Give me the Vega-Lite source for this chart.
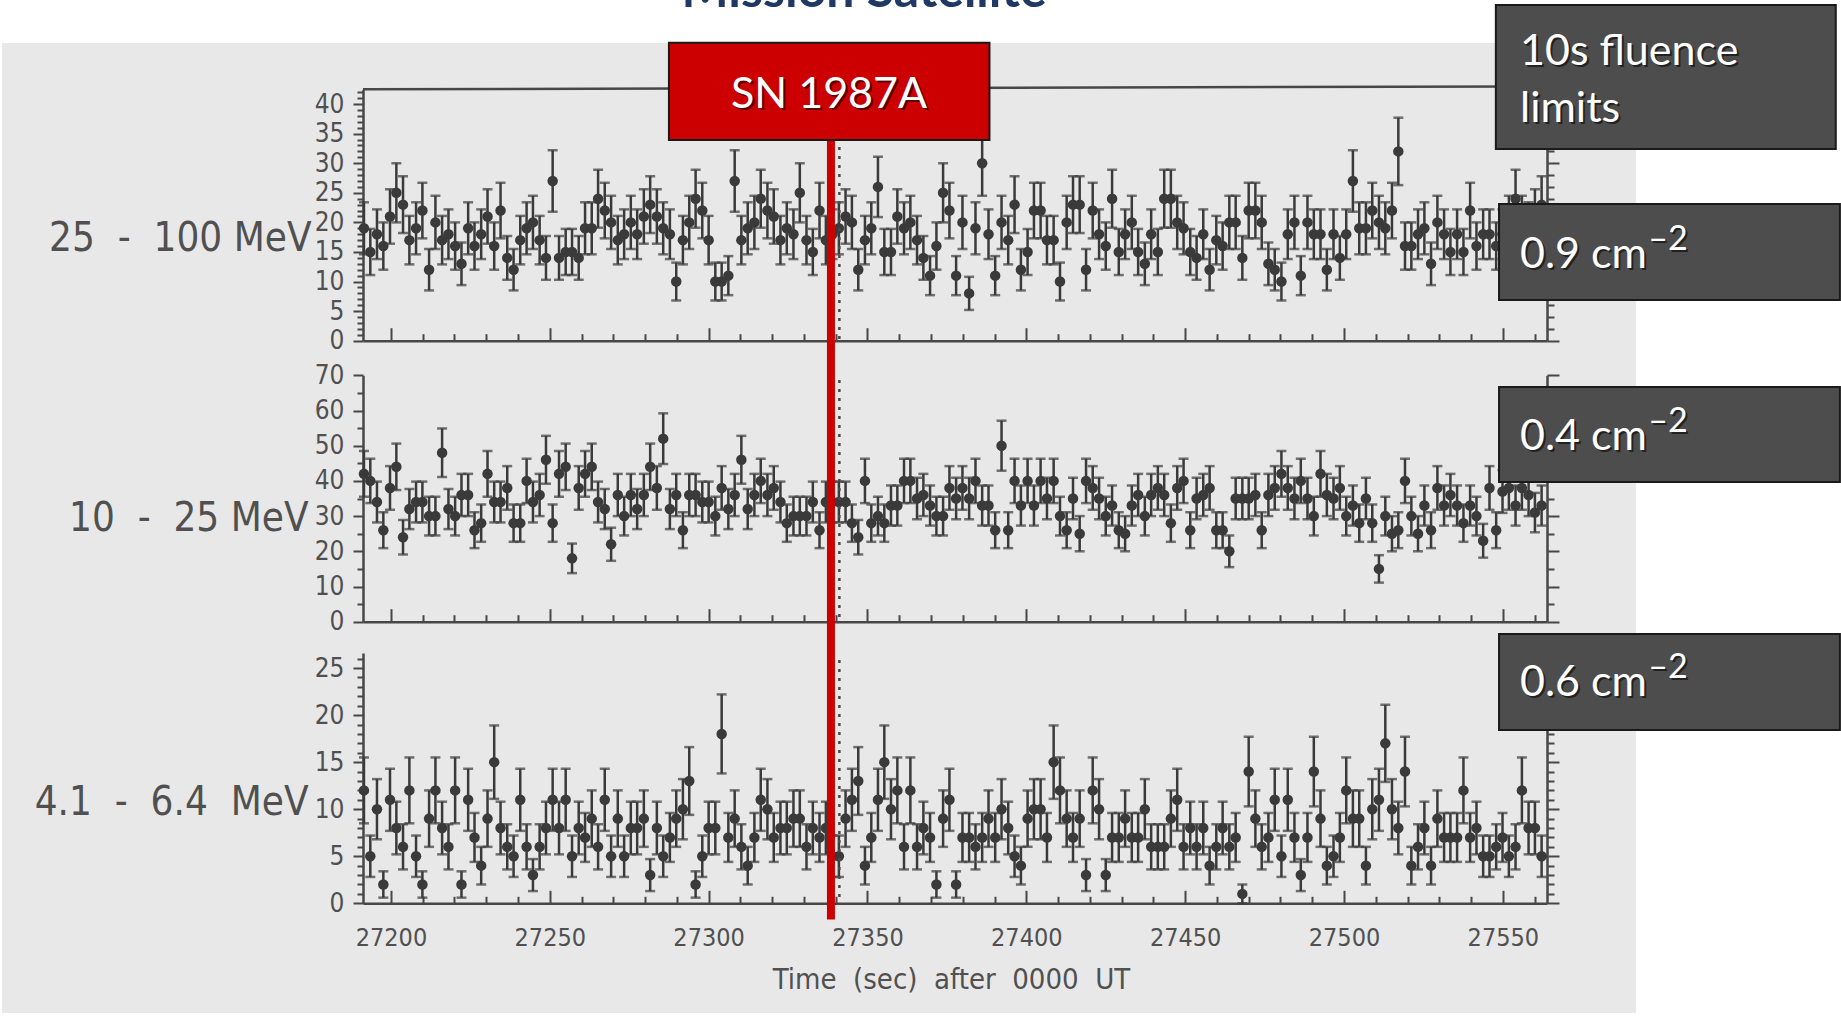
{
"$schema": "https://vega.github.io/schema/vega-lite/v6.json",
"width": 1841, "height": 1016,
"autosize": {"type": "none"},
"padding": 0,
"background": "#e8e8e8",
"config": {
  "view": {"stroke": null},
  "axis": {"domainColor": "#474747", "domainWidth": 2.5, "tickColor": "#474747", "tickWidth": 2, "grid": false,
    "labelFont": "DejaVu Sans Condensed, DejaVu Sans, sans-serif", "labelFontSize": 26, "labelColor": "#505050",
    "titleFont": "DejaVu Sans Condensed, DejaVu Sans, sans-serif", "titleColor": "#505050", "titleFontWeight": "normal",
    "labelFlush": false, "labelBound": false, "labelAngle": 0, "format": "d"}
},
"datasets": {
"d": [
{"t":27191.5,"a":19,"ea":4.4,"b":42,"eb":6.5,"c":12,"ec":3.5},
{"t":27193.5,"a":15,"ea":3.9,"b":40,"eb":6.3,"c":5,"ec":2.2},
{"t":27195.6,"a":18,"ea":4.2,"b":34,"eb":5.8,"c":10,"ec":3.2},
{"t":27197.6,"a":16,"ea":4.0,"b":26,"eb":5.1,"c":2,"ec":1.4},
{"t":27199.7,"a":21,"ea":4.6,"b":38,"eb":6.2,"c":11,"ec":3.3},
{"t":27201.7,"a":25,"ea":5.0,"b":44,"eb":6.6,"c":8,"ec":2.8},
{"t":27203.8,"a":23,"ea":4.8,"b":24,"eb":4.9,"c":6,"ec":2.4},
{"t":27205.8,"a":17,"ea":4.1,"b":32,"eb":5.7,"c":12,"ec":3.5},
{"t":27207.9,"a":19,"ea":4.4,"b":34,"eb":5.8,"c":5,"ec":2.2},
{"t":27209.9,"a":22,"ea":4.7,"b":34,"eb":5.8,"c":2,"ec":1.4},
{"t":27212.0,"a":12,"ea":3.5,"b":30,"eb":5.5,"c":9,"ec":3.0},
{"t":27214.0,"a":20,"ea":4.5,"b":30,"eb":5.5,"c":12,"ec":3.5},
{"t":27216.1,"a":17,"ea":4.1,"b":48,"eb":6.9,"c":8,"ec":2.8},
{"t":27218.1,"a":18,"ea":4.2,"b":32,"eb":5.7,"c":6,"ec":2.4},
{"t":27220.2,"a":16,"ea":4.0,"b":30,"eb":5.5,"c":12,"ec":3.5},
{"t":27222.2,"a":13,"ea":3.6,"b":36,"eb":6.0,"c":2,"ec":1.4},
{"t":27224.3,"a":19,"ea":4.4,"b":36,"eb":6.0,"c":11,"ec":3.3},
{"t":27226.3,"a":16,"ea":4.0,"b":26,"eb":5.1,"c":7,"ec":2.6},
{"t":27228.4,"a":18,"ea":4.2,"b":28,"eb":5.3,"c":4,"ec":2.0},
{"t":27230.4,"a":21,"ea":4.6,"b":42,"eb":6.5,"c":9,"ec":3.0},
{"t":27232.5,"a":16,"ea":4.0,"b":34,"eb":5.8,"c":15,"ec":3.9},
{"t":27234.5,"a":22,"ea":4.7,"b":34,"eb":5.8,"c":8,"ec":2.8},
{"t":27236.6,"a":14,"ea":3.7,"b":38,"eb":6.2,"c":6,"ec":2.4},
{"t":27238.6,"a":12,"ea":3.5,"b":28,"eb":5.3,"c":5,"ec":2.2},
{"t":27240.7,"a":17,"ea":4.1,"b":28,"eb":5.3,"c":11,"ec":3.3},
{"t":27242.7,"a":19,"ea":4.4,"b":40,"eb":6.3,"c":6,"ec":2.4},
{"t":27244.7,"a":20,"ea":4.5,"b":34,"eb":5.8,"c":3,"ec":1.7},
{"t":27246.8,"a":17,"ea":4.1,"b":36,"eb":6.0,"c":6,"ec":2.4},
{"t":27248.8,"a":14,"ea":3.7,"b":46,"eb":6.8,"c":8,"ec":2.8},
{"t":27250.9,"a":27,"ea":5.2,"b":28,"eb":5.3,"c":11,"ec":3.3},
{"t":27252.9,"a":14,"ea":3.7,"b":42,"eb":6.5,"c":8,"ec":2.8},
{"t":27255.0,"a":15,"ea":3.9,"b":44,"eb":6.6,"c":11,"ec":3.3},
{"t":27257.0,"a":15,"ea":3.9,"b":18,"eb":4.2,"c":5,"ec":2.2},
{"t":27259.1,"a":14,"ea":3.7,"b":38,"eb":6.2,"c":8,"ec":2.8},
{"t":27261.1,"a":19,"ea":4.4,"b":42,"eb":6.5,"c":7,"ec":2.6},
{"t":27263.2,"a":19,"ea":4.4,"b":44,"eb":6.6,"c":9,"ec":3.0},
{"t":27265.2,"a":24,"ea":4.9,"b":34,"eb":5.8,"c":6,"ec":2.4},
{"t":27267.3,"a":22,"ea":4.7,"b":32,"eb":5.7,"c":11,"ec":3.3},
{"t":27269.3,"a":20,"ea":4.5,"b":22,"eb":4.7,"c":5,"ec":2.2},
{"t":27271.4,"a":17,"ea":4.1,"b":36,"eb":6.0,"c":9,"ec":3.0},
{"t":27273.4,"a":18,"ea":4.2,"b":30,"eb":5.5,"c":5,"ec":2.2},
{"t":27275.5,"a":20,"ea":4.5,"b":36,"eb":6.0,"c":8,"ec":2.8},
{"t":27277.5,"a":18,"ea":4.2,"b":32,"eb":5.7,"c":8,"ec":2.8},
{"t":27279.6,"a":21,"ea":4.6,"b":36,"eb":6.0,"c":9,"ec":3.0},
{"t":27281.6,"a":23,"ea":4.8,"b":44,"eb":6.6,"c":3,"ec":1.7},
{"t":27283.7,"a":21,"ea":4.6,"b":38,"eb":6.2,"c":8,"ec":2.8},
{"t":27285.7,"a":19,"ea":4.4,"b":52,"eb":7.2,"c":5,"ec":2.2},
{"t":27287.8,"a":18,"ea":4.2,"b":32,"eb":5.7,"c":7,"ec":2.6},
{"t":27289.8,"a":10,"ea":3.2,"b":36,"eb":6.0,"c":9,"ec":3.0},
{"t":27291.9,"a":17,"ea":4.1,"b":26,"eb":5.1,"c":10,"ec":3.2},
{"t":27293.9,"a":20,"ea":4.5,"b":36,"eb":6.0,"c":13,"ec":3.6},
{"t":27295.9,"a":24,"ea":4.9,"b":36,"eb":6.0,"c":2,"ec":1.4},
{"t":27298.0,"a":22,"ea":4.7,"b":34,"eb":5.8,"c":5,"ec":2.2},
{"t":27300.0,"a":17,"ea":4.1,"b":34,"eb":5.8,"c":8,"ec":2.8},
{"t":27302.1,"a":10,"ea":3.2,"b":30,"eb":5.5,"c":8,"ec":2.8},
{"t":27304.1,"a":10,"ea":3.2,"b":38,"eb":6.2,"c":18,"ec":4.2},
{"t":27306.2,"a":11,"ea":3.3,"b":32,"eb":5.7,"c":7,"ec":2.6},
{"t":27308.2,"a":27,"ea":5.2,"b":36,"eb":6.0,"c":9,"ec":3.0},
{"t":27310.3,"a":17,"ea":4.1,"b":46,"eb":6.8,"c":6,"ec":2.4},
{"t":27312.3,"a":19,"ea":4.4,"b":32,"eb":5.7,"c":4,"ec":2.0},
{"t":27314.4,"a":20,"ea":4.5,"b":36,"eb":6.0,"c":7,"ec":2.6},
{"t":27316.4,"a":24,"ea":4.9,"b":40,"eb":6.3,"c":11,"ec":3.3},
{"t":27318.5,"a":22,"ea":4.7,"b":36,"eb":6.0,"c":10,"ec":3.2},
{"t":27320.5,"a":21,"ea":4.6,"b":38,"eb":6.2,"c":7,"ec":2.6},
{"t":27322.6,"a":17,"ea":4.1,"b":34,"eb":5.8,"c":8,"ec":2.8},
{"t":27324.6,"a":19,"ea":4.4,"b":28,"eb":5.3,"c":8,"ec":2.8},
{"t":27326.7,"a":18,"ea":4.2,"b":30,"eb":5.5,"c":9,"ec":3.0},
{"t":27328.7,"a":25,"ea":5.0,"b":30,"eb":5.5,"c":9,"ec":3.0},
{"t":27330.8,"a":17,"ea":4.1,"b":30,"eb":5.5,"c":6,"ec":2.4},
{"t":27332.8,"a":15,"ea":3.9,"b":34,"eb":5.8,"c":8,"ec":2.8},
{"t":27334.9,"a":22,"ea":4.7,"b":26,"eb":5.1,"c":7,"ec":2.6},
{"t":27336.9,"a":17,"ea":4.1,"b":34,"eb":5.8,"c":8,"ec":2.8},
{"t":27339.0,"a":18,"ea":4.2,"b":34,"eb":5.8,"c":5,"ec":2.2},
{"t":27341.0,"a":19,"ea":4.4,"b":34,"eb":5.8,"c":5,"ec":2.2},
{"t":27343.1,"a":21,"ea":4.6,"b":34,"eb":5.8,"c":9,"ec":3.0},
{"t":27345.1,"a":20,"ea":4.5,"b":28,"eb":5.3,"c":11,"ec":3.3},
{"t":27347.1,"a":12,"ea":3.5,"b":24,"eb":4.9,"c":13,"ec":3.6},
{"t":27349.2,"a":17,"ea":4.1,"b":40,"eb":6.3,"c":4,"ec":2.0},
{"t":27351.2,"a":19,"ea":4.4,"b":28,"eb":5.3,"c":7,"ec":2.6},
{"t":27353.3,"a":26,"ea":5.1,"b":30,"eb":5.5,"c":11,"ec":3.3},
{"t":27355.3,"a":15,"ea":3.9,"b":28,"eb":5.3,"c":15,"ec":3.9},
{"t":27357.4,"a":15,"ea":3.9,"b":33,"eb":5.7,"c":10,"ec":3.2},
{"t":27359.4,"a":21,"ea":4.6,"b":33,"eb":5.7,"c":12,"ec":3.5},
{"t":27361.5,"a":19,"ea":4.4,"b":40,"eb":6.3,"c":6,"ec":2.4},
{"t":27363.5,"a":20,"ea":4.5,"b":40,"eb":6.3,"c":12,"ec":3.5},
{"t":27365.6,"a":17,"ea":4.1,"b":35,"eb":5.9,"c":6,"ec":2.4},
{"t":27367.6,"a":14,"ea":3.7,"b":36,"eb":6.0,"c":8,"ec":2.8},
{"t":27369.7,"a":11,"ea":3.3,"b":33,"eb":5.7,"c":7,"ec":2.6},
{"t":27371.7,"a":16,"ea":4.0,"b":30,"eb":5.5,"c":2,"ec":1.4},
{"t":27373.8,"a":25,"ea":5.0,"b":30,"eb":5.5,"c":9,"ec":3.0},
{"t":27375.8,"a":22,"ea":4.7,"b":38,"eb":6.2,"c":11,"ec":3.3},
{"t":27377.9,"a":11,"ea":3.3,"b":35,"eb":5.9,"c":2,"ec":1.4},
{"t":27379.9,"a":20,"ea":4.5,"b":38,"eb":6.2,"c":7,"ec":2.6},
{"t":27382.0,"a":8,"ea":2.8,"b":35,"eb":5.9,"c":7,"ec":2.6},
{"t":27384.0,"a":19,"ea":4.4,"b":40,"eb":6.3,"c":6,"ec":2.4},
{"t":27386.1,"a":30,"ea":5.5,"b":33,"eb":5.7,"c":7,"ec":2.6},
{"t":27388.1,"a":18,"ea":4.2,"b":33,"eb":5.7,"c":9,"ec":3.0},
{"t":27390.2,"a":11,"ea":3.3,"b":26,"eb":5.1,"c":7,"ec":2.6},
{"t":27392.2,"a":20,"ea":4.5,"b":50,"eb":7.1,"c":10,"ec":3.2},
{"t":27394.3,"a":17,"ea":4.1,"b":26,"eb":5.1,"c":8,"ec":2.8},
{"t":27396.3,"a":23,"ea":4.8,"b":40,"eb":6.3,"c":5,"ec":2.2},
{"t":27398.3,"a":12,"ea":3.5,"b":33,"eb":5.7,"c":4,"ec":2.0},
{"t":27400.4,"a":15,"ea":3.9,"b":40,"eb":6.3,"c":9,"ec":3.0},
{"t":27402.4,"a":22,"ea":4.7,"b":33,"eb":5.7,"c":10,"ec":3.2},
{"t":27404.5,"a":22,"ea":4.7,"b":40,"eb":6.3,"c":10,"ec":3.2},
{"t":27406.5,"a":17,"ea":4.1,"b":35,"eb":5.9,"c":7,"ec":2.6},
{"t":27408.6,"a":17,"ea":4.1,"b":40,"eb":6.3,"c":15,"ec":3.9},
{"t":27410.6,"a":10,"ea":3.2,"b":30,"eb":5.5,"c":12,"ec":3.5},
{"t":27412.7,"a":20,"ea":4.5,"b":26,"eb":5.1,"c":9,"ec":3.0},
{"t":27414.7,"a":23,"ea":4.8,"b":35,"eb":5.9,"c":7,"ec":2.6},
{"t":27416.8,"a":23,"ea":4.8,"b":25,"eb":5.0,"c":9,"ec":3.0},
{"t":27418.8,"a":12,"ea":3.5,"b":40,"eb":6.3,"c":3,"ec":1.7},
{"t":27420.9,"a":22,"ea":4.7,"b":38,"eb":6.2,"c":12,"ec":3.5},
{"t":27422.9,"a":18,"ea":4.2,"b":35,"eb":5.9,"c":10,"ec":3.2},
{"t":27425.0,"a":16,"ea":4.0,"b":30,"eb":5.5,"c":3,"ec":1.7},
{"t":27427.0,"a":24,"ea":4.9,"b":33,"eb":5.7,"c":7,"ec":2.6},
{"t":27429.1,"a":15,"ea":3.9,"b":26,"eb":5.1,"c":7,"ec":2.6},
{"t":27431.1,"a":18,"ea":4.2,"b":25,"eb":5.0,"c":9,"ec":3.0},
{"t":27433.2,"a":20,"ea":4.5,"b":33,"eb":5.7,"c":7,"ec":2.6},
{"t":27435.2,"a":15,"ea":3.9,"b":36,"eb":6.0,"c":7,"ec":2.6},
{"t":27437.3,"a":13,"ea":3.6,"b":30,"eb":5.5,"c":10,"ec":3.2},
{"t":27439.3,"a":18,"ea":4.2,"b":36,"eb":6.0,"c":6,"ec":2.4},
{"t":27441.4,"a":15,"ea":3.9,"b":38,"eb":6.2,"c":6,"ec":2.4},
{"t":27443.4,"a":24,"ea":4.9,"b":36,"eb":6.0,"c":6,"ec":2.4},
{"t":27445.5,"a":24,"ea":4.9,"b":28,"eb":5.3,"c":9,"ec":3.0},
{"t":27447.5,"a":20,"ea":4.5,"b":38,"eb":6.2,"c":11,"ec":3.3},
{"t":27449.5,"a":19,"ea":4.4,"b":40,"eb":6.3,"c":6,"ec":2.4},
{"t":27451.6,"a":15,"ea":3.9,"b":26,"eb":5.1,"c":8,"ec":2.8},
{"t":27453.6,"a":14,"ea":3.7,"b":35,"eb":5.9,"c":6,"ec":2.4},
{"t":27455.7,"a":18,"ea":4.2,"b":36,"eb":6.0,"c":8,"ec":2.8},
{"t":27457.7,"a":12,"ea":3.5,"b":38,"eb":6.2,"c":4,"ec":2.0},
{"t":27459.8,"a":17,"ea":4.1,"b":26,"eb":5.1,"c":6,"ec":2.4},
{"t":27461.8,"a":16,"ea":4.0,"b":26,"eb":5.1,"c":8,"ec":2.8},
{"t":27463.9,"a":20,"ea":4.5,"b":20,"eb":4.5,"c":6,"ec":2.4},
{"t":27465.9,"a":20,"ea":4.5,"b":35,"eb":5.9,"c":7,"ec":2.6},
{"t":27468.0,"a":14,"ea":3.7,"b":35,"eb":5.9,"c":1,"ec":1.0},
{"t":27470.0,"a":22,"ea":4.7,"b":35,"eb":5.9,"c":14,"ec":3.7},
{"t":27472.1,"a":22,"ea":4.7,"b":36,"eb":6.0,"c":9,"ec":3.0},
{"t":27474.1,"a":20,"ea":4.5,"b":26,"eb":5.1,"c":6,"ec":2.4},
{"t":27476.2,"a":13,"ea":3.6,"b":36,"eb":6.0,"c":7,"ec":2.6},
{"t":27478.2,"a":12,"ea":3.5,"b":38,"eb":6.2,"c":11,"ec":3.3},
{"t":27480.3,"a":10,"ea":3.2,"b":42,"eb":6.5,"c":5,"ec":2.2},
{"t":27482.3,"a":18,"ea":4.2,"b":38,"eb":6.2,"c":11,"ec":3.3},
{"t":27484.4,"a":20,"ea":4.5,"b":35,"eb":5.9,"c":7,"ec":2.6},
{"t":27486.4,"a":11,"ea":3.3,"b":40,"eb":6.3,"c":3,"ec":1.7},
{"t":27488.5,"a":20,"ea":4.5,"b":35,"eb":5.9,"c":7,"ec":2.6},
{"t":27490.5,"a":18,"ea":4.2,"b":30,"eb":5.5,"c":14,"ec":3.7},
{"t":27492.6,"a":18,"ea":4.2,"b":42,"eb":6.5,"c":9,"ec":3.0},
{"t":27494.6,"a":12,"ea":3.5,"b":36,"eb":6.0,"c":4,"ec":2.0},
{"t":27496.7,"a":18,"ea":4.2,"b":35,"eb":5.9,"c":5,"ec":2.2},
{"t":27498.7,"a":14,"ea":3.7,"b":38,"eb":6.2,"c":7,"ec":2.6},
{"t":27500.7,"a":18,"ea":4.2,"b":30,"eb":5.5,"c":12,"ec":3.5},
{"t":27502.8,"a":27,"ea":5.2,"b":33,"eb":5.7,"c":9,"ec":3.0},
{"t":27504.8,"a":19,"ea":4.4,"b":28,"eb":5.3,"c":9,"ec":3.0},
{"t":27506.9,"a":19,"ea":4.4,"b":35,"eb":5.9,"c":4,"ec":2.0},
{"t":27508.9,"a":22,"ea":4.7,"b":28,"eb":5.3,"c":10,"ec":3.2},
{"t":27511.0,"a":20,"ea":4.5,"b":15,"eb":3.9,"c":11,"ec":3.3},
{"t":27513.0,"a":19,"ea":4.4,"b":30,"eb":5.5,"c":17,"ec":4.1},
{"t":27515.1,"a":22,"ea":4.7,"b":25,"eb":5.0,"c":10,"ec":3.2},
{"t":27517.1,"a":32,"ea":5.7,"b":26,"eb":5.1,"c":8,"ec":2.8},
{"t":27519.2,"a":16,"ea":4.0,"b":40,"eb":6.3,"c":14,"ec":3.7},
{"t":27521.2,"a":16,"ea":4.0,"b":30,"eb":5.5,"c":4,"ec":2.0},
{"t":27523.3,"a":18,"ea":4.2,"b":25,"eb":5.0,"c":6,"ec":2.4},
{"t":27525.3,"a":19,"ea":4.4,"b":33,"eb":5.7,"c":8,"ec":2.8},
{"t":27527.4,"a":13,"ea":3.6,"b":26,"eb":5.1,"c":4,"ec":2.0},
{"t":27529.4,"a":20,"ea":4.5,"b":38,"eb":6.2,"c":9,"ec":3.0},
{"t":27531.5,"a":18,"ea":4.2,"b":33,"eb":5.7,"c":7,"ec":2.6},
{"t":27533.5,"a":15,"ea":3.9,"b":36,"eb":6.0,"c":7,"ec":2.6},
{"t":27535.6,"a":18,"ea":4.2,"b":33,"eb":5.7,"c":7,"ec":2.6},
{"t":27537.6,"a":15,"ea":3.9,"b":28,"eb":5.3,"c":12,"ec":3.5},
{"t":27539.7,"a":22,"ea":4.7,"b":33,"eb":5.7,"c":7,"ec":2.6},
{"t":27541.7,"a":16,"ea":4.0,"b":30,"eb":5.5,"c":8,"ec":2.8},
{"t":27543.8,"a":18,"ea":4.2,"b":23,"eb":4.8,"c":5,"ec":2.2},
{"t":27545.8,"a":18,"ea":4.2,"b":38,"eb":6.2,"c":5,"ec":2.2},
{"t":27547.9,"a":16,"ea":4.0,"b":26,"eb":5.1,"c":6,"ec":2.4},
{"t":27549.9,"a":18,"ea":4.2,"b":37,"eb":6.1,"c":7,"ec":2.6},
{"t":27551.9,"a":20,"ea":4.5,"b":38,"eb":6.2,"c":5,"ec":2.2},
{"t":27554.0,"a":24,"ea":4.9,"b":33,"eb":5.7,"c":6,"ec":2.4},
{"t":27556.0,"a":20,"ea":4.5,"b":38,"eb":6.2,"c":12,"ec":3.5},
{"t":27558.1,"a":19,"ea":4.4,"b":36,"eb":6.0,"c":8,"ec":2.8},
{"t":27560.1,"a":21,"ea":4.6,"b":31,"eb":5.6,"c":8,"ec":2.8},
{"t":27562.2,"a":23,"ea":4.8,"b":33,"eb":5.7,"c":5,"ec":2.2}
],
"strips": [
{"x1":27073.8,"x2":27659.6,"y1":59.29,"y2":50.33},
{"x1":27591.9,"x2":27659.6,"y1":59.29,"y2":-115.86},
{"x1":27073.8,"x2":27659.6,"y1":-113.65,"y2":-115.86},
{"x1":27073.8,"x2":27077.6,"y1":59.29,"y2":-115.86}
],
"boxes": [
{"x1":27547.8,"x2":27654.8,"y1":56.75,"y2":32.41},
{"x1":27548.8,"x2":27656.1,"y1":23.11,"y2":6.88},
{"x1":27548.8,"x2":27656.1,"y1":-7.83,"y2":-23.89},
{"x1":27548.8,"x2":27656.1,"y1":-49.59,"y2":-65.82}
],
"labels": [
{"s":"10s fluence","x":27555.4,"y":46.68},
{"s":"limits","x":27555.4,"y":36.98},
{"s":"0.9 cm","x":27555.4,"y":12.29},
{"s":"0.4 cm","x":27555.4,"y":-18.44},
{"s":"0.6 cm","x":27555.4,"y":-60.07}
],
"sups": [
{"s":"–2","x":27595.8,"y":15.3},
{"s":"–2","x":27595.8,"y":-15.45},
{"s":"–2","x":27595.8,"y":-57.1}
]
},
"data": {"name": "d"},
"layer": [
{
  "data": {"name": "strips"},
  "mark": {"type": "rect", "color": "#ffffff"},
  "encoding": {
    "x": {"field": "x1", "type": "quantitative", "scale": {"domain": [27191.2, 27563.9], "range": [363, 1547], "nice": false, "zero": false}, "axis": null},
    "x2": {"field": "x2"},
    "y": {"field": "y1", "type": "quantitative", "scale": {"domain": [0, 42.5], "range": [340.7, 89.3], "nice": false, "zero": false}, "axis": null},
    "y2": {"field": "y2"}
  }
},
{
  "layer": [
    {
      "layer": [
        {
          "mark": {"type": "errorbar", "ticks": true, "size": 10, "thickness": 2.5, "color": "#3a3a3a"},
          "encoding": {
            "x": {"field": "t", "type": "quantitative", "scale": {"domain": [27191.2, 27563.9], "range": [363, 1547], "nice": false, "zero": false},
              "axis": {"orient": "bottom", "offset": -675.3, "values": [27200,27210,27220,27230,27240,27250,27260,27270,27280,27290,27300,27310,27320,27330,27340,27350,27360,27370,27380,27390,27400,27410,27420,27430,27440,27450,27460,27470,27480,27490,27500,27510,27520,27530,27540,27550,27560],
                "tickSize": {"condition": {"test": "datum.value % 50 === 0", "value": -13}, "value": -7}, "labels": false, "title": null}},
            "y": {"field": "a", "type": "quantitative", "scale": {"domain": [0, 42.5], "range": [340.7, 89.3], "nice": false, "zero": false},
              "axis": {"orient": "left", "offset": -363, "values": [0,5,10,15,20,25,30,35,40], "tickSize": 10, "labelPadding": 9, "labelOverlap": false,
                "title": "25 \u00a0-\u00a0 100 MeV", "titleAngle": 0, "titleAlign": "right", "titleBaseline": "middle", "titleX": -52, "titleY": 238, "titleFontSize": 40}},
            "yError": {"field": "ea"}
          }
        },
        {
          "mark": {"type": "circle", "size": 110, "color": "#3a3a3a", "opacity": 1},
          "encoding": {
            "x": {"field": "t", "type": "quantitative", "scale": {"domain": [27191.2, 27563.9], "range": [363, 1547], "nice": false, "zero": false}},
            "y": {"field": "a", "type": "quantitative", "scale": {"domain": [0, 42.5], "range": [340.7, 89.3], "nice": false, "zero": false}}
          }
        }
      ]
    },
    {
      "data": {"values": [{}]},
      "layer": [
        {
          "mark": {"type": "rule", "color": "#4a4a4a", "strokeWidth": 2.5, "strokeDash": [3, 6]},
          "encoding": {
            "x": {"datum": 27341.15, "type": "quantitative", "scale": {"domain": [27191.2, 27563.9], "range": [363, 1547], "nice": false, "zero": false}},
            "y": {"datum": 32.73, "type": "quantitative", "scale": {"domain": [0, 42.5], "range": [340.7, 89.3], "nice": false, "zero": false},
              "axis": {"orient": "right", "offset": -294, "values": [0,1,2,3,4,5,6,7,8,9,10,11,12,13,14,15,16,17,18,19,20,21,22,23,24,25,26,27,28,29,30,31,32,33,34,35,36,37,38,39,40,41,42],
                "tickSize": {"condition": {"test": "datum.value % 5 === 0", "value": 12}, "value": 7}, "labels": false, "title": null}},
            "y2": {"datum": 0}
          }
        },
        {
          "mark": {"type": "rule", "color": "#474747", "strokeWidth": 2.5},
          "encoding": {
            "x": {"datum": 27191.2, "type": "quantitative", "scale": {"domain": [27191.2, 27563.9], "range": [363, 1547], "nice": false, "zero": false}},
            "x2": {"datum": 27563.9},
            "y": {"datum": 42.5, "type": "quantitative", "scale": {"domain": [0, 42.5], "range": [340.7, 89.3], "nice": false, "zero": false}},
            "y2": {"datum": 43.0}
          }
        }
      ]
    },
    {
      "data": {"values": [{}]},
      "mark": {"type": "point", "opacity": 0},
      "encoding": {
        "x": {"datum": 27300, "type": "quantitative", "scale": {"domain": [27191.2, 27563.9], "range": [363, 1547], "nice": false, "zero": false}},
        "y": {"datum": 20, "type": "quantitative", "scale": {"domain": [0, 42.5], "range": [340.7, 89.3], "nice": false, "zero": false},
          "axis": {"orient": "left", "offset": -363, "values": [1,2,3,4,6,7,8,9,11,12,13,14,16,17,18,19,21,22,23,24,26,27,28,29,31,32,33,34,36,37,38,39,41,42],
            "tickSize": 6, "labels": false, "domain": false, "title": null}}
      }
    }
  ],
  "resolve": {"scale": {"y": "independent"}}
},
{
  "layer": [
    {
      "layer": [
        {
          "mark": {"type": "errorbar", "ticks": true, "size": 10, "thickness": 2.5, "color": "#3a3a3a"},
          "encoding": {
            "x": {"field": "t", "type": "quantitative", "scale": {"domain": [27191.2, 27563.9], "range": [363, 1547], "nice": false, "zero": false},
              "axis": {"orient": "bottom", "offset": -394.3, "values": [27200,27210,27220,27230,27240,27250,27260,27270,27280,27290,27300,27310,27320,27330,27340,27350,27360,27370,27380,27390,27400,27410,27420,27430,27440,27450,27460,27470,27480,27490,27500,27510,27520,27530,27540,27550,27560],
                "tickSize": {"condition": {"test": "datum.value % 50 === 0", "value": -13}, "value": -7}, "labels": false, "title": null}},
            "y": {"field": "b", "type": "quantitative", "scale": {"domain": [0, 70], "range": [621.7, 375.3], "nice": false, "zero": false},
              "axis": {"orient": "left", "offset": -363, "values": [0,5,10,15,20,25,30,35,40,45,50,55,60,65,70],
                "tickSize": {"condition": {"test": "datum.value % 10 === 0", "value": 10}, "value": 6},
                "labelExpr": "datum.value % 10 === 0 ? datum.label : ''", "labelPadding": 9, "labelOverlap": false,
                "title": "10 \u00a0-\u00a0 25 MeV", "titleAngle": 0, "titleAlign": "right", "titleBaseline": "middle", "titleX": -55, "titleY": 518, "titleFontSize": 40}},
            "yError": {"field": "eb"}
          }
        },
        {
          "mark": {"type": "circle", "size": 110, "color": "#3a3a3a", "opacity": 1},
          "encoding": {
            "x": {"field": "t", "type": "quantitative", "scale": {"domain": [27191.2, 27563.9], "range": [363, 1547], "nice": false, "zero": false}},
            "y": {"field": "b", "type": "quantitative", "scale": {"domain": [0, 70], "range": [621.7, 375.3], "nice": false, "zero": false}}
          }
        }
      ]
    },
    {
      "data": {"values": [{}]},
      "mark": {"type": "rule", "color": "#4a4a4a", "strokeWidth": 2.5, "strokeDash": [3, 6]},
      "encoding": {
        "x": {"datum": 27341.15, "type": "quantitative", "scale": {"domain": [27191.2, 27563.9], "range": [363, 1547], "nice": false, "zero": false}},
        "y": {"datum": 68.7, "type": "quantitative", "scale": {"domain": [0, 70], "range": [621.7, 375.3], "nice": false, "zero": false},
          "axis": {"orient": "right", "offset": -294, "values": [0,5,10,15,20,25,30,35,40,45,50,55,60,65,70],
            "tickSize": {"condition": {"test": "datum.value % 10 === 0", "value": 12}, "value": 7}, "labels": false, "title": null}},
        "y2": {"datum": 0}
      }
    }
  ],
  "resolve": {"scale": {"y": "independent"}}
},
{
  "layer": [
    {
      "layer": [
        {
          "mark": {"type": "errorbar", "ticks": true, "size": 10, "thickness": 2.5, "color": "#3a3a3a"},
          "encoding": {
            "x": {"field": "t", "type": "quantitative", "scale": {"domain": [27191.2, 27563.9], "range": [363, 1547], "nice": false, "zero": false},
              "axis": {"orient": "bottom", "offset": -112.7, "values": [27200,27210,27220,27230,27240,27250,27260,27270,27280,27290,27300,27310,27320,27330,27340,27350,27360,27370,27380,27390,27400,27410,27420,27430,27440,27450,27460,27470,27480,27490,27500,27510,27520,27530,27540,27550,27560],
                "tickSize": {"condition": {"test": "datum.value % 50 === 0", "value": -13}, "value": -7},
                "labelExpr": "datum.value % 50 === 0 ? datum.label : ''", "labelPadding": 35, "labelFontSize": 25,
                "title": "Time\u00a0 (sec)\u00a0 after\u00a0 0000\u00a0 UT", "titleX": 951, "titleY": 76, "titleAlign": "center", "titleBaseline": "middle", "titleFontSize": 29}},
            "y": {"field": "c", "type": "quantitative", "scale": {"domain": [0, 26.6], "range": [903.3, 653], "nice": false, "zero": false},
              "axis": {"orient": "left", "offset": -363, "values": [0,5,10,15,20,25], "tickSize": 10, "labelPadding": 9, "labelOverlap": false,
                "title": "4.1 \u00a0-\u00a0 6.4 \u00a0MeV", "titleAngle": 0, "titleAlign": "right", "titleBaseline": "middle", "titleX": -55, "titleY": 802, "titleFontSize": 40}},
            "yError": {"field": "ec"}
          }
        },
        {
          "mark": {"type": "circle", "size": 110, "color": "#3a3a3a", "opacity": 1},
          "encoding": {
            "x": {"field": "t", "type": "quantitative", "scale": {"domain": [27191.2, 27563.9], "range": [363, 1547], "nice": false, "zero": false}},
            "y": {"field": "c", "type": "quantitative", "scale": {"domain": [0, 26.6], "range": [903.3, 653], "nice": false, "zero": false}}
          }
        }
      ]
    },
    {
      "data": {"values": [{}]},
      "mark": {"type": "rule", "color": "#4a4a4a", "strokeWidth": 2.5, "strokeDash": [3, 6]},
      "encoding": {
        "x": {"datum": 27341.15, "type": "quantitative", "scale": {"domain": [27191.2, 27563.9], "range": [363, 1547], "nice": false, "zero": false}},
        "y": {"datum": 25.86, "type": "quantitative", "scale": {"domain": [0, 26.6], "range": [903.3, 653], "nice": false, "zero": false},
          "axis": {"orient": "right", "offset": -294, "values": [0,1,2,3,4,5,6,7,8,9,10,11,12,13,14,15,16,17,18,19,20,21,22,23,24,25,26],
            "tickSize": {"condition": {"test": "datum.value % 5 === 0", "value": 12}, "value": 7}, "labels": false, "title": null}},
        "y2": {"datum": 0}
      }
    },
    {
      "data": {"values": [{}]},
      "mark": {"type": "point", "opacity": 0},
      "encoding": {
        "x": {"datum": 27300, "type": "quantitative", "scale": {"domain": [27191.2, 27563.9], "range": [363, 1547], "nice": false, "zero": false}},
        "y": {"datum": 10, "type": "quantitative", "scale": {"domain": [0, 26.6], "range": [903.3, 653], "nice": false, "zero": false},
          "axis": {"orient": "left", "offset": -363, "values": [1,2,3,4,6,7,8,9,11,12,13,14,16,17,18,19,21,22,23,24,26],
            "tickSize": 6, "labels": false, "domain": false, "title": null}}
      }
    }
  ],
  "resolve": {"scale": {"y": "independent"}}
},
{
  "layer": [
    {
      "data": {"values": [{}]},
      "mark": {"type": "rule", "color": "#cc0000", "strokeWidth": 8},
      "encoding": {
        "x": {"datum": 27338.5, "type": "quantitative", "scale": {"domain": [27191.2, 27563.9], "range": [363, 1547], "nice": false, "zero": false}, "axis": null},
        "y": {"datum": 36, "type": "quantitative", "scale": {"domain": [0, 42.5], "range": [340.7, 89.3], "nice": false, "zero": false}, "axis": null},
        "y2": {"datum": -97.85}
      }
    },
    {
      "data": {"values": [{}]},
      "mark": {"type": "rect", "fill": "#cc0000", "stroke": "#1a1a1a", "strokeWidth": 2},
      "encoding": {
        "x": {"datum": 27287.5, "type": "quantitative", "scale": {"domain": [27191.2, 27563.9], "range": [363, 1547], "nice": false, "zero": false}, "axis": null},
        "x2": {"datum": 27388.4},
        "y": {"datum": 50.38, "type": "quantitative", "scale": {"domain": [0, 42.5], "range": [340.7, 89.3], "nice": false, "zero": false}, "axis": null},
        "y2": {"datum": 33.93}
      }
    },
    {
      "data": {"values": [{"s": "SN 1987A"}]},
      "mark": {"type": "text", "font": "Lato", "fontSize": 43, "align": "center", "baseline": "alphabetic", "color": "#000000", "opacity": 0.55, "dx": 2, "dy": 2},
      "encoding": {
        "x": {"datum": 27337.9, "type": "quantitative", "scale": {"domain": [27191.2, 27563.9], "range": [363, 1547], "nice": false, "zero": false}, "axis": null},
        "y": {"datum": 39.34, "type": "quantitative", "scale": {"domain": [0, 42.5], "range": [340.7, 89.3], "nice": false, "zero": false}, "axis": null},
        "text": {"field": "s"}
      }
    },
    {
      "data": {"values": [{"s": "SN 1987A"}]},
      "mark": {"type": "text", "font": "Lato", "fontSize": 43, "align": "center", "baseline": "alphabetic", "color": "#ffffff"},
      "encoding": {
        "x": {"datum": 27337.9, "type": "quantitative", "scale": {"domain": [27191.2, 27563.9], "range": [363, 1547], "nice": false, "zero": false}, "axis": null},
        "y": {"datum": 39.34, "type": "quantitative", "scale": {"domain": [0, 42.5], "range": [340.7, 89.3], "nice": false, "zero": false}, "axis": null},
        "text": {"field": "s"}
      }
    },
    {
      "data": {"name": "boxes"},
      "mark": {"type": "rect", "fill": "#4d4d4d", "stroke": "#1a1a1a", "strokeWidth": 2},
      "encoding": {
        "x": {"field": "x1", "type": "quantitative", "scale": {"domain": [27191.2, 27563.9], "range": [363, 1547], "nice": false, "zero": false}, "axis": null},
        "x2": {"field": "x2"},
        "y": {"field": "y1", "type": "quantitative", "scale": {"domain": [0, 42.5], "range": [340.7, 89.3], "nice": false, "zero": false}, "axis": null},
        "y2": {"field": "y2"}
      }
    },
    {
      "data": {"name": "labels"},
      "mark": {"type": "text", "font": "Lato", "fontSize": 43, "align": "left", "baseline": "alphabetic", "color": "#000000", "opacity": 0.55, "dx": 2, "dy": 2},
      "encoding": {
        "x": {"field": "x", "type": "quantitative", "scale": {"domain": [27191.2, 27563.9], "range": [363, 1547], "nice": false, "zero": false}, "axis": null},
        "y": {"field": "y", "type": "quantitative", "scale": {"domain": [0, 42.5], "range": [340.7, 89.3], "nice": false, "zero": false}, "axis": null},
        "text": {"field": "s"}
      }
    },
    {
      "data": {"name": "labels"},
      "mark": {"type": "text", "font": "Lato", "fontSize": 43, "align": "left", "baseline": "alphabetic", "color": "#ffffff"},
      "encoding": {
        "x": {"field": "x", "type": "quantitative", "scale": {"domain": [27191.2, 27563.9], "range": [363, 1547], "nice": false, "zero": false}, "axis": null},
        "y": {"field": "y", "type": "quantitative", "scale": {"domain": [0, 42.5], "range": [340.7, 89.3], "nice": false, "zero": false}, "axis": null},
        "text": {"field": "s"}
      }
    },
    {
      "data": {"name": "sups"},
      "mark": {"type": "text", "font": "Lato", "fontSize": 34, "align": "left", "baseline": "alphabetic", "color": "#000000", "opacity": 0.55, "dx": 2, "dy": 2},
      "encoding": {
        "x": {"field": "x", "type": "quantitative", "scale": {"domain": [27191.2, 27563.9], "range": [363, 1547], "nice": false, "zero": false}, "axis": null},
        "y": {"field": "y", "type": "quantitative", "scale": {"domain": [0, 42.5], "range": [340.7, 89.3], "nice": false, "zero": false}, "axis": null},
        "text": {"field": "s"}
      }
    },
    {
      "data": {"name": "sups"},
      "mark": {"type": "text", "font": "Lato", "fontSize": 34, "align": "left", "baseline": "alphabetic", "color": "#ffffff"},
      "encoding": {
        "x": {"field": "x", "type": "quantitative", "scale": {"domain": [27191.2, 27563.9], "range": [363, 1547], "nice": false, "zero": false}, "axis": null},
        "y": {"field": "y", "type": "quantitative", "scale": {"domain": [0, 42.5], "range": [340.7, 89.3], "nice": false, "zero": false}, "axis": null},
        "text": {"field": "s"}
      }
    },
    {
      "data": {"values": [{"s": "Mission Satellite"}]},
      "mark": {"type": "text", "font": "Lato", "fontSize": 50, "fontWeight": "bold", "align": "center", "baseline": "alphabetic", "color": "#1f3864"},
      "encoding": {
        "x": {"datum": 27348.9, "type": "quantitative", "scale": {"domain": [27191.2, 27563.9], "range": [363, 1547], "nice": false, "zero": false}, "axis": null},
        "y": {"datum": 56.42, "type": "quantitative", "scale": {"domain": [0, 42.5], "range": [340.7, 89.3], "nice": false, "zero": false}, "axis": null},
        "text": {"field": "s"}
      }
    }
  ]
}
],
"resolve": {"scale": {"x": "independent", "y": "independent"}}
}
